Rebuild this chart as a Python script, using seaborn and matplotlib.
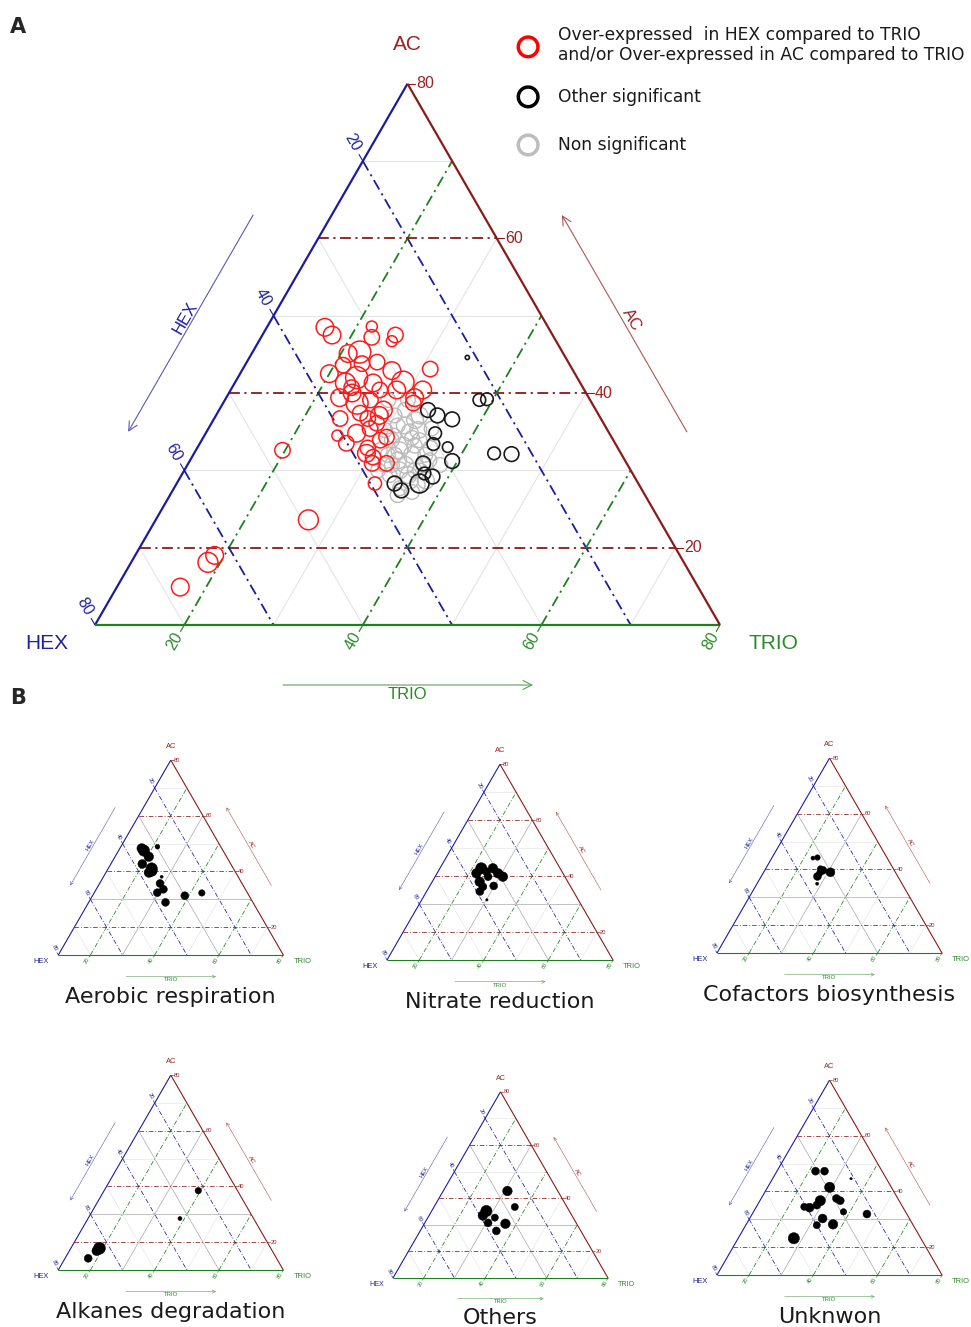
import numpy as np
import pandas as pd
import matplotlib
matplotlib.use("Agg")
import matplotlib.pyplot as plt
import seaborn as sns

# ---------------- data (compositions in %, bubble radius in px) ----------------
# Panel A - over-expressed (red)
red_hex = [35.0, 34.7, 29.7, 30.4, 27.6, 28.4, 34.1, 32.7, 33.2, 31.4,
           37.5, 35.4, 30.3, 25.9, 34.7, 36.3, 33.2, 29.8, 31.0, 32.9,
           28.1, 29.5, 30.0, 36.2, 37.9, 36.3, 34.6, 33.8, 34.6, 36.1,
           36.6, 39.2, 40.6, 38.3, 36.5, 35.4, 36.1, 38.0, 38.0, 38.5,
           38.5, 36.9, 39.5, 40.1, 35.9, 35.2, 47.7, 49.3, 68.0, 63.3, 62.1]
red_ac = [48.5, 47.5, 48.6, 47.2, 47.5, 46.7, 45.1, 45.3, 43.8, 44.0,
          42.5, 43.6, 42.9, 43.1, 42.0, 41.3, 41.3, 41.4, 40.4, 40.4,
          40.4, 39.4, 38.7, 40.0, 39.4, 38.7, 39.1, 37.8, 37.1, 36.7,
          37.4, 36.7, 34.5, 34.8, 35.4, 36.1, 33.9, 32.9, 31.7, 32.2,
          30.9, 30.9, 28.3, 33.5, 40.7, 34.3, 32.6, 23.6, 14.9, 18.1, 19.0]
red_trio = [16.5, 17.8, 21.7, 22.4, 24.9, 24.9, 20.8, 22.0, 23.0, 24.6,
            20.0, 21.0, 26.8, 31.0, 23.3, 22.4, 25.5, 28.8, 28.6, 26.7,
            31.5, 31.1, 31.3, 23.8, 22.7, 25.0, 26.3, 28.4, 28.3, 27.2,
            26.0, 24.1, 24.9, 26.9, 28.1, 28.5, 30.0, 29.1, 30.3, 29.3,
            30.6, 32.2, 32.2, 26.4, 23.4, 30.5, 19.7, 27.1, 17.1, 18.6, 18.9]
red_size = [8, 8, 5, 7, 7, 5, 8, 10, 7, 7,
            8, 7, 8, 7, 10, 9, 8, 10, 8, 7,
            8, 8, 7, 8, 8, 10, 7, 8, 8, 7,
            7, 7, 5, 8, 7, 7, 7, 7, 7, 8,
            7, 7, 6, 7, 7, 7, 7, 9, 8, 9, 8]

# Panel A - other significant (black)
blk_hex = [21.0, 22.4, 21.5, 24.2, 22.3, 28.8, 28.1, 26.7, 29.5, 29.0,
           30.4, 29.4, 32.6, 32.8, 34.5, 37.0, 37.3, 33.3]
blk_ac = [44.6, 39.1, 39.2, 32.2, 32.1, 37.8, 37.1, 36.6, 34.8, 33.0,
          33.4, 31.2, 29.2, 30.9, 28.3, 27.4, 28.3, 29.6]
blk_trio = [34.4, 38.5, 39.3, 43.6, 45.6, 33.4, 34.8, 36.7, 35.7, 38.0,
            36.2, 39.4, 38.2, 36.3, 37.2, 35.6, 34.4, 37.1]
blk_size = [2, 6, 6, 6, 7, 7, 7, 7, 6, 5, 6, 7, 7, 7, 9, 7, 7, 6]

# Panel A - non significant (grey)
gry_hex = [31.4, 30.9, 33.2, 32.3, 31.7, 33.9, 34.8, 33.5, 32.0, 35.4,
           36.2, 34.2, 35.9, 37.3, 35.4, 32.9, 31.0, 31.2, 32.9, 34.9,
           30.4, 30.1, 37.0, 35.9, 36.8, 29.6, 32.6, 33.6, 35.4, 34.9,
           38.3, 34.8, 31.0, 37.2, 34.3, 32.4, 32.6, 34.6, 33.6, 36.4,
           35.2, 31.9, 32.4, 37.7]
gry_ac = [37.8, 36.5, 35.8, 34.9, 33.9, 33.2, 33.9, 32.0, 32.0, 31.3,
          32.0, 30.0, 30.0, 29.4, 28.7, 30.7, 32.9, 35.2, 37.1, 35.2,
          39.1, 37.1, 27.7, 27.2, 32.6, 35.4, 39.1, 28.7, 32.0, 30.7,
          30.0, 28.1, 30.7, 30.7, 34.5, 35.8, 33.2, 32.6, 30.0, 30.7,
          29.4, 31.3, 34.2, 26.8]
gry_trio = [30.8, 32.6, 31.0, 32.8, 34.4, 32.9, 31.3, 34.5, 36.0, 33.3,
            31.8, 35.8, 34.1, 33.3, 35.9, 36.4, 36.1, 33.6, 30.0, 29.9,
            30.5, 32.8, 35.3, 36.9, 30.6, 35.0, 28.3, 37.7, 32.6, 34.4,
            31.7, 37.1, 38.3, 32.1, 31.2, 31.8, 34.2, 32.8, 36.4, 32.9,
            35.4, 36.8, 33.4, 35.5]
gry_size = [7, 8, 7, 8, 7, 8, 7, 8, 7, 8, 7, 7, 8, 7, 8, 7, 7, 8, 7, 7,
            7, 8, 7, 7, 7, 7, 7, 8, 7, 8, 7, 7, 7, 7, 7, 8, 7, 8, 7, 7,
            8, 7, 7, 7]

# Panel B - functional categories
aer_hex = [34.9, 34.6, 34.2, 29.7, 37.5, 35.4, 37.0, 35.8, 33.8, 35.5, 35.5, 38.0, 37.2, 30.0, 24.2]
aer_ac = [48.3, 47.5, 45.3, 48.9, 42.7, 41.1, 39.6, 40.3, 38.1, 35.7, 33.6, 32.4, 28.9, 31.3, 32.3]
aer_trio = [16.8, 17.9, 20.5, 21.4, 19.8, 23.5, 23.4, 23.9, 28.1, 28.8, 30.9, 29.6, 33.9, 38.7, 43.5]
aer_size = [4.0, 4.7, 4.0, 2.0, 3.7, 4.7, 4.0, 4.7, 1.3, 3.3, 3.3, 3.3, 3.3, 3.3, 2.7]

nit_hex = [34.4, 30.8, 36.8, 33.4, 30.1, 29.2, 37.3, 37.2, 39.0, 33.7, 33.8, 38.3]
nit_ac = [42.8, 42.8, 41.0, 41.6, 41.0, 39.8, 38.0, 36.2, 34.5, 36.5, 39.8, 31.5]
nit_trio = [22.8, 26.4, 22.2, 25.0, 28.9, 31.0, 24.7, 26.6, 26.5, 29.8, 26.4, 30.2]
nit_size = [4.7, 4.0, 4.0, 3.3, 4.0, 4.0, 4.0, 3.3, 3.3, 3.3, 3.3, 1.0]

cof_hex = [33.1, 31.6, 32.7, 32.2, 30.2, 35.0, 33.7, 36.4]
cof_ac = [44.1, 44.3, 40.2, 39.7, 39.0, 37.5, 38.7, 34.9]
cof_trio = [22.8, 24.1, 27.1, 28.1, 30.8, 27.5, 27.6, 28.7]
cof_size = [1.7, 2.3, 2.7, 3.3, 3.7, 3.3, 2.7, 1.3]

alk_hex = [63.3, 64.6, 68.6, 22.2, 32.9]
alk_ac = [17.8, 16.9, 14.2, 38.5, 28.5]
alk_trio = [18.9, 18.5, 17.2, 39.3, 38.6]
alk_size = [5.0, 4.0, 3.3, 2.7, 1.7]

oth_hex = [26.4, 27.0, 37.0, 39.0, 35.5, 38.7, 33.2, 37.5]
oth_ac = [42.7, 36.7, 35.2, 33.5, 32.7, 30.7, 30.4, 27.7]
oth_trio = [30.9, 36.3, 27.8, 27.5, 31.8, 30.6, 36.4, 34.8]
oth_size = [4.0, 3.0, 4.7, 4.0, 3.0, 3.3, 4.0, 3.3]

unk_hex = [30.7, 27.9, 29.2, 21.0, 29.1, 28.3, 34.5, 36.4, 39.1, 40.6, 29.3, 22.4, 37.0, 40.0, 34.8, 49.5]
unk_ac = [47.3, 47.3, 41.5, 44.6, 37.5, 36.7, 36.7, 35.1, 34.2, 34.5, 32.7, 31.9, 30.3, 27.9, 28.2, 23.2]
unk_trio = [22.0, 24.8, 29.3, 34.4, 33.4, 35.0, 28.8, 28.5, 26.7, 24.9, 38.0, 45.7, 32.7, 32.1, 37.0, 27.3]
unk_size = [3.3, 3.3, 4.3, 1.0, 3.3, 3.3, 4.3, 3.3, 3.7, 3.0, 2.7, 3.3, 3.7, 3.0, 4.0, 4.7]

panel_titles = ["Aerobic respiration", "Nitrate reduction", "Cofactors biosynthesis",
                "Alkanes degradation", "Others", "Unknwon"]
tick_values = [20, 40, 60, 80]
minor_values = [30, 50, 70]
major_values = [20, 40, 60]
legend_labels = ["Over-expressed  in HEX compared to TRIO\nand/or Over-expressed in AC compared to TRIO",
                 "Other significant", "Non significant"]

# ---------------- styling ----------------
sns.set_theme(style="white")
plt.rcParams['font.family'] = ['DejaVu Sans']
TF = 'Liberation Sans'

HEX_C, AC_C, TRIO_C = '#1c1c9e', '#8b1a1a', '#1e801e'
HEX_T, AC_T, TRIO_T = '#22229a', '#9b2222', '#2a8a2a'
HEX_A, AC_A, TRIO_A = '#5a5ab4', '#b05656', '#5aa05a'
SQ = np.sqrt(3) / 2
LO, SPAN = 10.0, 70.0


def proj(h, a, t):
    a = (np.asarray(a, float) - LO) / SPAN
    t = (np.asarray(t, float) - LO) / SPAN
    return t + a / 2, a * SQ


def const_line(var, v):
    if var == 'ac':
        return (90 - v, v, 10), (10, v, 90 - v)
    if var == 'hex':
        return (v, 90 - v, 10), (v, 10, 90 - v)
    return (90 - v, 10, v), (10, 90 - v, v)


def seg(ax, c0, c1, **kw):
    x0, y0 = proj(*c0)
    x1, y1 = proj(*c1)
    ax.plot([x0, x1], [y0, y1], solid_capstyle='butt', **kw)


def draw_frame(ax, k, dark30=False):
    lw_edge, lw_dash, lw_minor = max(1.6 * k, 0.8), max(1.3 * k, 0.55), max(0.8 * k, 0.45)
    for v in minor_values:
        for var in ('ac', 'hex', 'trio'):
            col = '#a0a0a0' if (dark30 and v == 30) else '#e4e4e4'
            seg(ax, *const_line(var, v), color=col, lw=lw_minor, zorder=1)
    for v in major_values:
        for var, col in (('ac', AC_C), ('hex', HEX_C), ('trio', TRIO_C)):
            seg(ax, *const_line(var, v), color=col, lw=lw_dash,
                dashes=(6, 2.5, 1.2, 2.5), zorder=2)
    seg(ax, (80, 10, 10), (10, 80, 10), color=HEX_C, lw=lw_edge, zorder=3)
    seg(ax, (80, 10, 10), (10, 10, 80), color=TRIO_C, lw=lw_edge, zorder=3)
    seg(ax, (10, 10, 80), (10, 80, 10), color=AC_C, lw=lw_edge, zorder=3)

    fs_tick, fs_corner, fs_arrow = 11.5 * k, 15 * k, 12 * k
    tl = 0.012
    for v in tick_values:
        x, y = proj(10, v, 90 - v)
        ax.plot([x, x + tl], [y, y], color=AC_C, lw=lw_minor)
        ax.text(x + tl + 0.002, y, str(v), color=AC_T, fontsize=fs_tick, family=TF,
                ha='left', va='center')
        x, y = proj(v, 90 - v, 10)
        ax.plot([x, x - 0.5 * tl], [y, y + SQ * tl], color=HEX_C, lw=lw_minor)
        ax.text(x - 0.5 * 0.034, y + SQ * 0.034, str(v), color=HEX_T, fontsize=fs_tick,
                family=TF, rotation=-60, ha='center', va='center')
        x, y = proj(90 - v, 10, v)
        ax.plot([x, x - 0.5 * tl], [y, y - SQ * tl], color=TRIO_C, lw=lw_minor)
        ax.text(x - 0.5 * 0.03, y - SQ * 0.03, str(v), color=TRIO_T, fontsize=fs_tick,
                family=TF, rotation=60, ha='center', va='center')

    ax.text(0.5, SQ + 0.062, 'AC', color=AC_T, fontsize=fs_corner, family=TF,
            ha='center', va='center')
    ax.text(-0.077, -0.029, 'HEX', color=HEX_T, fontsize=fs_corner, family=TF,
            ha='center', va='center')
    ax.text(1.085, -0.029, 'TRIO', color=TRIO_T, fontsize=fs_corner, family=TF,
            ha='center', va='center')

    aw = max(0.8 * k, 0.4)
    ms = max(16 * k, 5)
    ax.annotate('', xy=(0.053, 0.309), xytext=(0.253, 0.656),
                arrowprops=dict(arrowstyle='->', color=HEX_A, lw=aw, mutation_scale=ms,
                                shrinkA=0, shrinkB=0))
    ax.text(0.144, 0.491, 'HEX', color=HEX_C, fontsize=fs_arrow, family=TF,
            rotation=60, ha='center', va='center')
    ax.annotate('', xy=(0.747, 0.656), xytext=(0.947, 0.309),
                arrowprops=dict(arrowstyle='->', color=AC_A, lw=aw, mutation_scale=ms,
                                shrinkA=0, shrinkB=0))
    ax.text(0.858, 0.488, 'AC', color=AC_T, fontsize=fs_arrow, family=TF,
            rotation=-60, ha='center', va='center')
    ax.annotate('', xy=(0.701, -0.096), xytext=(0.301, -0.096),
                arrowprops=dict(arrowstyle='->', color=TRIO_A, lw=aw, mutation_scale=ms,
                                shrinkA=0, shrinkB=0))
    ax.text(0.5, -0.111, 'TRIO', color=TRIO_T, fontsize=fs_arrow, family=TF,
            ha='center', va='center')


def tern_scatter(ax, h, a, t, r_px, edge, face, lw, z, scale=1.0):
    x, y = proj(h, a, t)
    df = pd.DataFrame({'x': x, 'y': y})
    s = (1.44 * scale * np.asarray(r_px, float)) ** 2
    sns.scatterplot(data=df, x='x', y='y', s=s, ax=ax, marker='o',
                    facecolor=face, edgecolor=edge, linewidth=lw,
                    zorder=z, legend=False)


# ---------------- figure ----------------
FW, FH = 971.0, 1327.0
fig = plt.figure(figsize=(FW / 100, FH / 100), dpi=100)


def add_axes_px(left, top, width, height):
    return fig.add_axes([left / FW, 1 - (top + height) / FH, width / FW, height / FH])


# Panel A
axA = add_axes_px(0, 0, 971, 720)
draw_frame(axA, 1.0)
tern_scatter(axA, gry_hex, gry_ac, gry_trio, gry_size, '#bcbcbc', 'none', 1.0, 4, 1.05)
tern_scatter(axA, red_hex, red_ac, red_trio, red_size, '#ff1a1a', 'none', 1.1, 5, 1.1)
tern_scatter(axA, blk_hex, blk_ac, blk_trio, blk_size, '#1a1a1a', 'none', 1.2, 6, 1.05)

# legend
leg_y = [0.925, 0.845, 0.768]
leg_c = ['#ff0000', '#000000', '#bdbdbd']
for yy, cc, lab in zip(leg_y, leg_c, legend_labels):
    dfl = pd.DataFrame({'x': [0.693], 'y': [yy]})
    sns.scatterplot(data=dfl, x='x', y='y', s=200, ax=axA, marker='o',
                    facecolor='none', edgecolor=cc, linewidth=2.5, legend=False, zorder=7)
    axA.text(0.741, yy + (0.003 if '\n' in lab else 0.0), lab, fontsize=12.3, color='#1a1a1a',
             ha='left', va='center', linespacing=1.2)

axA.set_xlim(-95 / 625, 876 / 625)
axA.set_ylim(-95 / 625, 1.0)
axA.axis('off')

# Panel B
layout = [(58.3, 955, 225), (387, 960, 226), (717, 953, 225),
          (58.3, 1270, 225), (393, 1278, 215), (717, 1275, 225)]
pdata = [(aer_hex, aer_ac, aer_trio, aer_size),
         (nit_hex, nit_ac, nit_trio, nit_size),
         (cof_hex, cof_ac, cof_trio, cof_size),
         (alk_hex, alk_ac, alk_trio, alk_size),
         (oth_hex, oth_ac, oth_trio, oth_size),
         (unk_hex, unk_ac, unk_trio, unk_size)]

for (xl, yb, W), (h, a, t, r), title in zip(layout, pdata, panel_titles):
    ax = add_axes_px(xl - 0.32 * W, yb - 1.0 * W, 1.64 * W, 1.27 * W)
    k = W / 625
    draw_frame(ax, k, dark30=True)
    tern_scatter(ax, h, a, t, r, 'black', 'black', 0.3, 5, 1.2)
    ax.text(0.5, -0.186, title, fontsize=16, color='#1a1a1a', ha='center', va='center')
    ax.set_xlim(-0.32, 1.32)
    ax.set_ylim(-0.27, 1.0)
    ax.axis('off')

fig.text(18 / FW, 1 - 27 / FH, 'A', fontsize=15, fontweight='bold', ha='center', va='center')
fig.text(18 / FW, 1 - 698 / FH, 'B', fontsize=15, fontweight='bold', ha='center', va='center')

fig.savefig('out.png', dpi=100)
